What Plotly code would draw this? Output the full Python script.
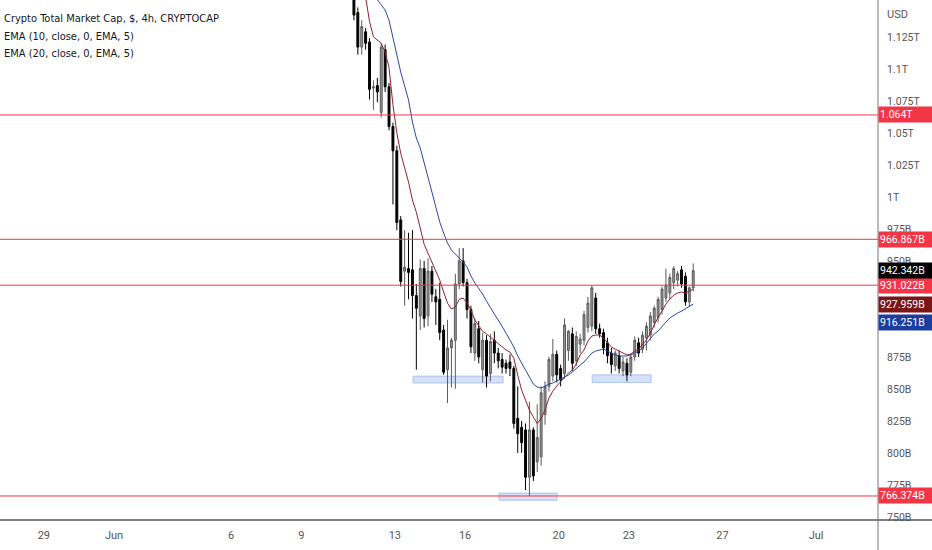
import pandas as pd
import plotly.graph_objects as go

# 4h candles, values in billions USD
times = pd.date_range('2022-06-11 06:00', periods=88, freq='4h')

opens = [1158, 1144, 1117, 1129, 1121, 1085, 1087, 1066, 1115, 1086,
         1055, 1036, 982, 942, 944, 943, 923, 907, 944, 907,
         942, 922, 920, 896, 865, 882, 888, 932, 950, 933,
         912, 878, 897, 865, 888, 862, 888, 878, 873, 870,
         871, 866, 827, 820, 818, 781, 818, 793, 797, 830,
         852, 860, 877, 866, 862, 880, 893, 872, 885, 888,
         898, 899, 921, 897, 894, 886, 878, 868, 876, 864,
         870, 863, 875, 886, 881, 890, 892, 902, 906, 912,
         921, 925, 933, 935, 943, 938, 918, 929]
highs = [1162, 1148, 1138, 1132, 1124, 1091, 1093, 1120, 1119, 1089,
         1058, 1040, 985, 974, 972, 974, 932, 951, 950, 952,
         946, 928, 933, 900, 904, 890, 940, 960, 960, 936,
         915, 905, 903, 894, 892, 893, 895, 882, 878, 873,
         877, 868, 852, 825, 823, 840, 820, 838, 852, 856,
         875, 889, 880, 869, 905, 896, 898, 895, 893, 911,
         922, 931, 925, 901, 897, 890, 882, 880, 880, 875,
         874, 877, 891, 890, 895, 902, 910, 915, 922, 930,
         944, 940, 946, 942, 946, 941, 930, 948]
lows = [1138, 1111, 1111, 1115, 1076, 1068, 1074, 1062, 1082, 1052,
        994, 974, 930, 915, 920, 905, 865, 896, 898, 899,
        918, 900, 888, 861, 839, 851, 850, 928, 930, 905,
        878, 872, 870, 855, 851, 856, 870, 866, 862, 862,
        860, 819, 800, 800, 771, 766.374, 778, 785, 790, 822,
        848, 856, 855, 852, 858, 872, 864, 868, 878, 884,
        894, 895, 893, 890, 877, 870, 862, 864, 862, 860,
        856, 860, 872, 875, 878, 880, 888, 898, 902, 908,
        918, 920, 928, 930, 929, 915, 914, 926]
closes = [1142, 1117, 1133, 1120, 1084, 1086, 1082, 1117, 1086, 1055,
          1036, 980, 934, 945, 941, 923, 913, 944, 905, 942,
          924, 918, 894, 863, 882, 888, 932, 950, 933, 912,
          883, 901, 875, 888, 860, 887, 878, 872, 867, 866,
          866, 823, 815, 808, 781, 818, 782, 812, 847, 852,
          873, 877, 861, 857, 900, 895, 870, 891, 889, 908,
          917, 929, 897, 893, 882, 876, 869, 878, 866, 871,
          861, 875, 888, 878, 892, 899, 907, 913, 920, 928,
          931, 937, 944, 940, 932, 918, 929, 942.342]

ema10 = [1185, 1177, 1168, 1156, 1137, 1125, 1122.6, 1120, 1113, 1101,
         1072, 1050, 1034, 1022.5, 1011.6, 997.6, 988, 975.7, 963, 956,
         949, 943, 935, 925.7, 917, 912.4, 914, 920, 921, 917,
         911.6, 903.8, 899, 895, 892.9, 890.5, 887.4, 885, 882.7, 880.4,
         878.8, 874, 860.8, 849, 841.3, 833.5, 828, 823, 827, 833.5,
         842.9, 848.3, 852.2, 855.4, 859.3, 862.4, 864.7, 869.4, 876.5, 880.4,
         887.4, 891.3, 892.1, 892.1, 889.8, 885.8, 882.7, 881.1, 879.6, 878,
         876.5, 877.2, 879.6, 881.1, 884.3, 888.2, 893.6, 899.9, 906.1, 910.8,
         916.3, 920.2, 923.3, 924.9, 925.7, 924.9, 926.5, 927.959]
ema20 = [1224, 1212, 1200, 1189, 1177, 1165.5, 1154, 1150, 1146, 1138,
         1124, 1110.8, 1097.5, 1086.6, 1075.7, 1058.5, 1046, 1038.2, 1027.3, 1015.5,
         1003.8, 992, 980.4, 971.8, 964, 958.5, 955.4, 953, 949.1, 945.2,
         938.2, 932.7, 928.8, 924.1, 918.6, 913.2, 908.5, 903.8, 899.1, 893.6,
         888.2, 882.7, 875.7, 870.2, 863.9, 858.5, 853.8, 851.5, 850.7, 852.2,
         853.8, 854.6, 856.1, 857.7, 859.3, 860.8, 863.2, 866.3, 868.6, 871,
         874.9, 878, 879.6, 880.4, 881.1, 879.6, 878, 876.5, 875.7, 875.7,
         875.7, 876.5, 878, 879.6, 881.9, 885.8, 889.8, 892.9, 895.2, 898.3,
         902.2, 905.4, 907.7, 909.3, 910.8, 912.4, 914, 916.251]

# horizontal levels
levels = [1064.0, 966.867, 931.022, 766.374]
level_labels = ['1.064T', '966.867B', '931.022B', '766.374B']

# support zones (start, end, low, high)
zone_start = ['2022-06-13 18:40', '2022-06-21 10:20', '2022-06-17 10:50']
zone_end = ['2022-06-17 15:00', '2022-06-23 22:50', '2022-06-19 22:20']
zone_low = [854.6, 855.0, 763.0]
zone_high = [860.0, 861.0, 768.6]

# 900B / 925B sit under the price tags, so no text there
tick_vals = [750, 775, 800, 825, 850, 875, 900, 925, 950, 975, 1000, 1025, 1050, 1075, 1100, 1125]
tick_text = ['750B', '775B', '800B', '825B', '850B', '875B', '', '', '950B', '975B',
             '1T', '1.025T', '1.05T', '1.075T', '1.1T', '1.125T']
x_tick_vals = ['2022-05-29', '2022-06-01', '2022-06-06', '2022-06-09', '2022-06-13',
               '2022-06-16', '2022-06-20', '2022-06-23', '2022-06-27', '2022-07-01']
x_tick_text = ['29', 'Jun', '6', '9', '13', '16', '20', '23', '27', 'Jul']

RED = '#f23645'
EMA10_COL = '#8e2230'
EMA20_COL = '#2e46a6'
FONT = 'DejaVu Sans Condensed, Liberation Sans Narrow, Roboto, sans-serif'
TAG_FONT = 'Roboto, sans-serif'

fig = go.Figure()

for s, e, lo, hi in zip(zone_start, zone_end, zone_low, zone_high):
    fig.add_shape(type='rect', x0=s, x1=e, y0=lo, y1=hi, xref='x', yref='y',
                  fillcolor='rgba(178,200,240,0.55)', line=dict(color='rgba(150,180,235,0.7)', width=1),
                  layer='below')

for lv in levels:
    fig.add_hline(y=lv, line=dict(color=RED, width=1))

fig.add_trace(go.Candlestick(
    x=times, open=opens, high=highs, low=lows, close=closes,
    increasing=dict(fillcolor='#9a9a9a', line=dict(color='#5a5a5a', width=1)),
    decreasing=dict(fillcolor='#000000', line=dict(color='#000000', width=1)),
    whiskerwidth=0, hoverinfo='skip', showlegend=False,
))
fig.add_trace(go.Scatter(x=times, y=ema10, mode='lines', line=dict(color=EMA10_COL, width=1),
                         hoverinfo='skip', showlegend=False))
fig.add_trace(go.Scatter(x=times, y=ema20, mode='lines', line=dict(color=EMA20_COL, width=1),
                         hoverinfo='skip', showlegend=False))

# price labels on the right scale
price_tags = [(lv, txt, RED, 0) for lv, txt in zip(levels, level_labels)]
price_tags += [(closes[-1], '942.342B', '#000000', 0),
               (ema10[-1], '927.959B', '#7a1518', -15),
               (ema20[-1], '916.251B', '#1b3d9e', -18)]
for val, txt, col, shift in price_tags:
    fig.add_annotation(x=1, xref='paper', y=val, yref='y', text=txt, showarrow=False,
                       xanchor='left', yanchor='middle', xshift=0, yshift=shift,
                       bgcolor=col, width=52, height=13, borderpad=1, align='left',
                       font=dict(color='white', size=10.5, family=TAG_FONT))

fig.add_annotation(x=1, xref='paper', y=1, yref='paper', text='USD', showarrow=False,
                   xanchor='left', yanchor='top', xshift=7, yshift=-6,
                   font=dict(color='#555555', size=11, family=TAG_FONT))

legend_lines = ['Crypto Total Market Cap, $, 4h, CRYPTOCAP',
                'EMA (10, close, 0, EMA, 5)',
                'EMA (20, close, 0, EMA, 5)']
for k, line in enumerate(legend_lines):
    fig.add_annotation(x=0, xref='paper', y=1, yref='paper', text=line, showarrow=False,
                       xanchor='left', yanchor='top', xshift=2, yshift=-10 - 17.5 * k,
                       font=dict(color='#131722', size=11, family=FONT))

# frame lines of the price/time scales
fig.add_shape(type='line', xref='paper', yref='paper', x0=0, x1=1.07, y0=0, y1=0,
              line=dict(color='#555555', width=1.5))
fig.add_shape(type='line', xref='paper', yref='paper', x0=1, x1=1, y0=-0.07, y1=1,
              line=dict(color='#777777', width=1))

fig.update_layout(
    width=932, height=550,
    margin=dict(l=0, r=54, t=0, b=30),
    paper_bgcolor='white', plot_bgcolor='white',
    font=dict(family=TAG_FONT, color='#555555', size=11),
    showlegend=False,
    xaxis=dict(range=['2022-05-27 03:00', '2022-07-03 15:30'], rangeslider=dict(visible=False),
               showgrid=False, zeroline=False, showline=False,
               tickvals=x_tick_vals, ticktext=x_tick_text, ticks='outside', ticklen=5,
               tickcolor='rgba(0,0,0,0)', tickfont=dict(size=11, color='#555555')),
    yaxis=dict(range=[747.6, 1153.8], side='right', showgrid=False, zeroline=False,
               showline=False, tickvals=tick_vals, ticktext=tick_text, ticks='outside',
               ticklen=6, tickcolor='rgba(0,0,0,0)',
               tickfont=dict(size=10.5, color='#555555'), automargin=False),
)

# drop the default page margin so the chart fills the window
fig.write_html('out.html', config={'displayModeBar': False},
               post_script="document.body.style.margin='0';")
